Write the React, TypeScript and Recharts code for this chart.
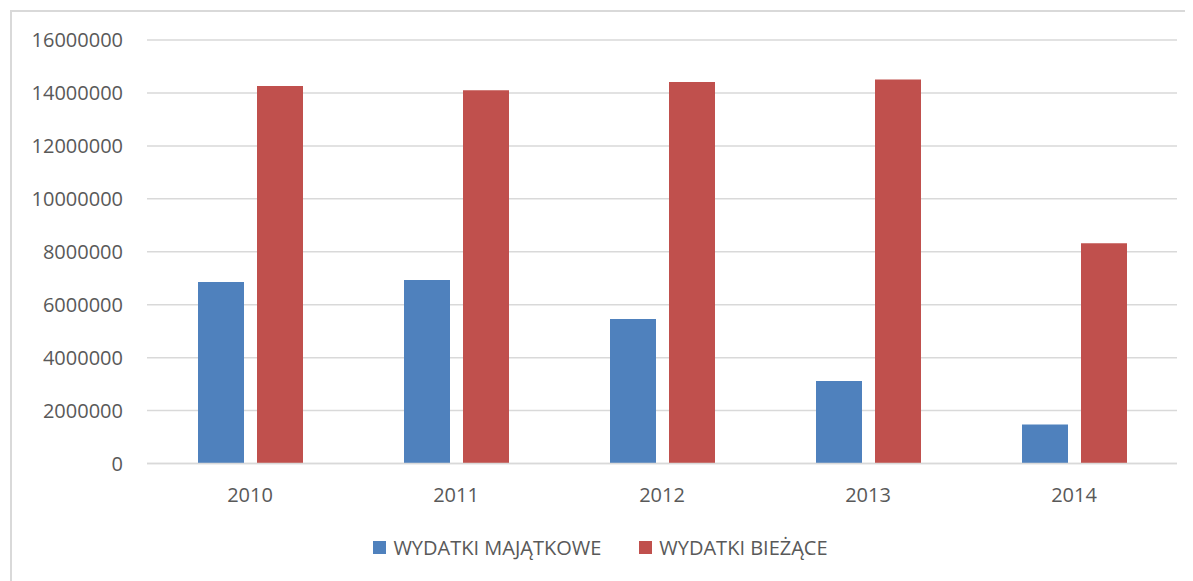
import { BarChart, Bar, XAxis, YAxis, CartesianGrid, Legend } from 'recharts'

// values
const years = ['2010', '2011', '2012', '2013', '2014']
const majatkowe = [6860000, 6930000, 5460000, 3120000, 1470000]
const biezace = [14260000, 14100000, 14410000, 14510000, 8320000]
const yTicks = [0, 2000000, 4000000, 6000000, 8000000, 10000000, 12000000, 14000000, 16000000]
const seriesNames = ['WYDATKI MAJĄTKOWE', 'WYDATKI BIEŻĄCE']

const colors = ['#4f81bd', '#c0504d']
const textColor = '#595959'
const font = '"Open Sans", sans-serif'

const data = years.map((year, i) => ({
  name: year,
  majatkowe: majatkowe[i],
  biezace: biezace[i],
}))

function LegendContent() {
  return (
    <div
      style={{
        display: 'flex',
        justifyContent: 'center',
        alignItems: 'center',
        height: 20,
        fontFamily: font,
        fontSize: 20,
        color: textColor,
      }}
    >
      {seriesNames.map((name, i) => (
        <div key={name} style={{ display: 'flex', alignItems: 'center', marginRight: i === 0 ? 38 : 0 }}>
          <span style={{ width: 13, height: 13, background: colors[i], marginRight: 7, display: 'inline-block' }} />
          <span style={{ lineHeight: '20px' }}>{name}</span>
        </div>
      ))}
    </div>
  )
}

export default function App() {
  return (
    <div style={{ position: 'relative', width: 1185, height: 573, overflow: 'hidden', background: '#fff' }}>
      <div
        style={{
          position: 'absolute',
          left: 2,
          top: 2,
          width: 1300,
          height: 700,
          border: '2px solid #d9d9d9',
          boxSizing: 'border-box',
        }}
      />
      <div style={{ position: 'absolute', left: 0, top: 0 }}>
        <BarChart
          width={1185}
          height={573}
          data={data}
          margin={{ top: 32, right: 16, left: 0, bottom: 23.5 }}
          barSize={46}
          barGap={13}
        >
          <CartesianGrid vertical={false} stroke="#d9d9d9" strokeWidth={1.5} />
          <XAxis
            dataKey="name"
            height={74}
            axisLine={{ stroke: '#d9d9d9', strokeWidth: 1.5 }}
            tickLine={false}
            tickSize={0}
            tickMargin={24}
            tick={{ fill: textColor, fontSize: 20, fontFamily: font }}
          />
          <YAxis
            width={139}
            domain={[0, 16000000]}
            ticks={yTicks}
            interval={0}
            axisLine={false}
            tickLine={false}
            tickSize={0}
            tickMargin={24}
            tick={{ fill: textColor, fontSize: 20, fontFamily: font }}
          />
          <Legend
            verticalAlign="bottom"
            content={<LegendContent />}
            wrapperStyle={{ left: 0, width: 1185 }}
          />
          <Bar dataKey="majatkowe" name={seriesNames[0]} fill={colors[0]} isAnimationActive={false} />
          <Bar dataKey="biezace" name={seriesNames[1]} fill={colors[1]} isAnimationActive={false} />
        </BarChart>
      </div>
    </div>
  )
}
